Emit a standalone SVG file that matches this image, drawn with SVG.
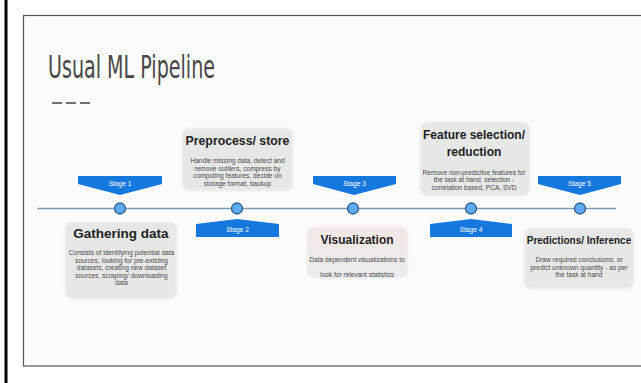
<svg xmlns="http://www.w3.org/2000/svg" width="641" height="383" viewBox="0 0 641 383">
  <style>
    .title { font-family: "Liberation Sans Narrow", "DejaVu Sans Condensed", "Liberation Sans", sans-serif; font-size: 32px; fill: #474747; }
    .box { fill: #e7e7e8; }
    .head { font-family: "Liberation Sans", Arial, sans-serif; font-weight: bold; fill: #222; text-anchor: middle; }
    .desc { font-family: "Liberation Sans", Arial, sans-serif; font-size: 6.6px; fill: #4a4a4a; text-anchor: middle; }
    .banner { fill: #1578df; }
    .stage { font-family: "Liberation Sans", Arial, sans-serif; font-size: 6.6px; fill: #ffffff; text-anchor: middle; }
    .dot { fill: #5eaaf0; stroke: #2c5e8d; stroke-width: 1.3; }
    .line { stroke: #7b9bb4; stroke-width: 1.6; fill: none; }
  </style>
  <defs>
    <linearGradient id="warm" x1="0" y1="0" x2="0" y2="1">
      <stop offset="0" stop-color="#f4e8e4"/>
      <stop offset="1" stop-color="#eaeaee"/>
    </linearGradient>
    <filter id="soft" x="-10%" y="-10%" width="120%" height="120%">
      <feGaussianBlur stdDeviation="0.8"/>
    </filter>
  </defs>

  <!-- page background and slide frame -->
  <rect x="0" y="0" width="641" height="383" fill="#ffffff"/>
  <rect x="4.5" y="0" width="3" height="383" fill="#000000"/>
  <rect x="23.5" y="15.5" width="640" height="350.5" fill="#fbfbfb" stroke="#555555" stroke-width="1.2"/>

  <!-- heading -->
  <text class="title" x="48" y="77.5" textLength="167" lengthAdjust="spacingAndGlyphs">Usual ML Pipeline</text>
  <line x1="52" y1="103" x2="90" y2="103" stroke="#444" stroke-width="1.3" stroke-dasharray="10 4"/>

  <!-- timeline -->
  <g id="connectors">
    <line class="line" x1="37" y1="208.5" x2="616" y2="208.5"/>
  </g>

  <!-- stage markers -->
  <g id="stage1">
    <polygon class="banner" points="78,176 162,176 162,184 120,195 78,184"/>
    <text class="stage" x="120" y="185.5">Stage 1</text>
    <circle class="dot" cx="120" cy="208.5" r="5.5"/>
  </g>
  <g id="stage2">
    <polygon class="banner" points="196,224 237,219 279,224 279,237 196,237"/>
    <text class="stage" x="237.5" y="231.5">Stage 2</text>
    <circle class="dot" cx="237" cy="208.5" r="5.5"/>
  </g>
  <g id="stage3">
    <polygon class="banner" points="313,176 396,176 396,184 354,195 313,184"/>
    <text class="stage" x="354.5" y="185.5">Stage 3</text>
    <circle class="dot" cx="353" cy="208.5" r="5.5"/>
  </g>
  <g id="stage4">
    <polygon class="banner" points="430,224 471,219 512,224 512,237 430,237"/>
    <text class="stage" x="471" y="231.5">Stage 4</text>
    <circle class="dot" cx="471" cy="208.5" r="5.5"/>
  </g>
  <g id="stage5">
    <polygon class="banner" points="538,176 621,176 621,184 580,195 538,184"/>
    <text class="stage" x="579.5" y="185.5">Stage 5</text>
    <circle class="dot" cx="580" cy="208.5" r="5.5"/>
  </g>

  <!-- stage descriptions -->
  <g id="gathering">
    <rect class="box" x="65" y="222" width="112" height="77" rx="8" filter="url(#soft)"/>
    <text class="head" x="121" y="238" font-size="13.5">Gathering data</text>
    <text class="desc" x="121.5" y="255.3">Consists of identifying potential data</text>
    <text class="desc" x="121.5" y="262.8">sources, looking for pre-existing</text>
    <text class="desc" x="121.5" y="270.3">datasets, creating new dataset</text>
    <text class="desc" x="121.5" y="277.8">sources, scraping/ downloading</text>
    <text class="desc" x="121.5" y="285.3">data</text>
  </g>

  <g id="preprocess">
    <rect class="box" x="182" y="128" width="111" height="63" rx="8" filter="url(#soft)"/>
    <text class="head" x="237.5" y="144.5" font-size="12.3">Preprocess/ store</text>
    <text class="desc" x="237.5" y="163.3">Handle missing data, detect and</text>
    <text class="desc" x="237.5" y="170.8">remove outliers, compress by</text>
    <text class="desc" x="237.5" y="178.3">computing features, decide on</text>
    <text class="desc" x="237.5" y="185.8">storage format, backup</text>
  </g>

  <g id="visualization">
    <rect x="307" y="227" width="101" height="51" rx="7" fill="url(#warm)" filter="url(#soft)"/>
    <text class="head" x="357" y="243.5" font-size="12">Visualization</text>
    <text class="desc" x="357" y="262.3">Data dependent visualizations to</text>
    <text class="desc" x="357" y="276.6">look for relevant statistics</text>
  </g>

  <g id="feature-selection">
    <rect class="box" x="420" y="122" width="110" height="74" rx="8" filter="url(#soft)"/>
    <text class="head" x="474" y="139.3" font-size="12">Feature selection/</text>
    <text class="head" x="474" y="156" font-size="12">reduction</text>
    <text class="desc" x="474" y="175">Remove non-predicitve features for</text>
    <text class="desc" x="474" y="182.3">the task at hand, selection -</text>
    <text class="desc" x="474" y="190">correlation based, PCA, SVD</text>
  </g>

  <g id="predictions">
    <rect class="box" x="524" y="228" width="110" height="61" rx="8" filter="url(#soft)"/>
    <text class="head" x="579" y="243.5" font-size="10">Predictions/ Inference</text>
    <text class="desc" x="579" y="262.3">Draw required conclusions, or</text>
    <text class="desc" x="579" y="269.6">predict unknown quantity - as per</text>
    <text class="desc" x="579" y="277.3">the task at hand</text>
  </g>
</svg>
